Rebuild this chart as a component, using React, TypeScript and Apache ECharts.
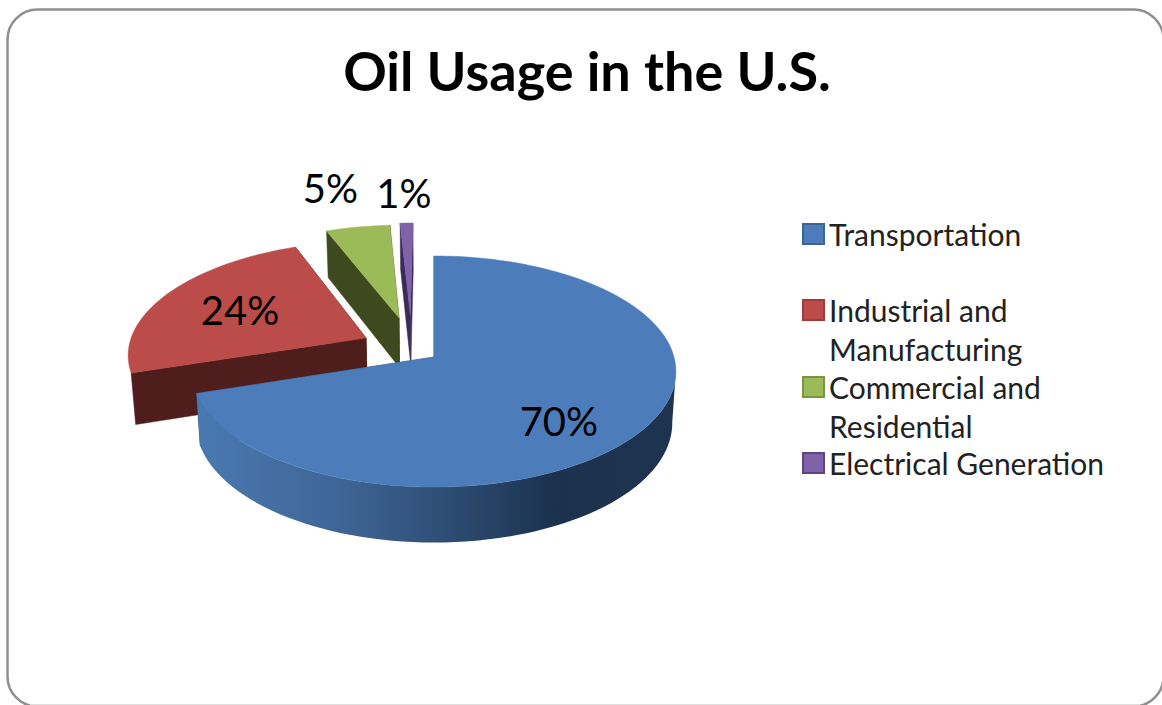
import React, { useEffect, useRef } from "react";
import * as echarts from "echarts";

const TITLE = "Oil Usage in the U.S.";
const CATEGORIES = ["Transportation", "Industrial and\nManufacturing", "Commercial and\nResidential", "Electrical Generation"];
const VALUES = [70, 24, 5, 1];
const PERCENT_LABELS = ["70%", "24%", "5%", "1%"];

const TOP_COLORS = ["#4c7dba", "#bb4c49", "#9bbb59", "#7f62a8"];
const WALL_COLORS = ["#2f5078", "#4f1e1c", "#3e4a1e", "#3a2a58"];
const LEGEND_BORDERS = ["#3a6595", "#a03c3a", "#7a9440", "#5e4680"];
const LEGEND_CENTER_Y = [234, 310, 387, 463];
// pie-plane offsets of the exploded slices
const EXPLODE = [[0, 0], [-0.289, 0.171], [-0.152, 0.358], [-0.103, 0.383]];
const LABEL_RADIUS = [0.6, 0.6, 1.15, 1.15];
const LABEL_NUDGE = [[3, 22], [-4.5, -1], [-22, -27], [-2, -18]];
const SERIES_Z = [4, 1, 2, 3];

const CX = 434, CY = 357, B = 240, A = 113.7, K = 0.1255;
const FONT = "Lato, Carlito, 'Open Sans', sans-serif";
const LINE_H = 38.5;
const TOTAL = VALUES.reduce((a, b) => a + b, 0);

function project(u: number, v: number, base: boolean): number[] {
  const w = 1 + K * v;
  const x = (B * u) / w;
  const y = (-A * v) / w;
  if (!base) return [CX + x, CY + y];
  return [CX + x * 0.985, CY + y * 1.035 + 51];
}

function renderSlice(params: any, api: any) {
  const i = params.seriesIndex;
  const before = VALUES.slice(0, i).reduce((a, b) => a + b, 0);
  const start = (before / TOTAL) * Math.PI * 2;
  const end = ((before + api.value(0)) / TOTAL) * Math.PI * 2;
  const [du, dv] = EXPLODE[i];
  const steps = Math.max(4, Math.round(((end - start) / (Math.PI * 2)) * 160));
  const rimAt = (t: number, base: boolean) => project(du + Math.sin(t), dv + Math.cos(t), base);
  const topArc: number[][] = [];
  const baseArc: number[][] = [];
  for (let s = 0; s <= steps; s++) {
    const t = start + ((end - start) * s) / steps;
    topArc.push(rimAt(t, false));
    baseArc.push(rimAt(t, true));
  }
  const tipTop = project(du, dv, false);
  const tipBase = project(du, dv, true);
  const wall = (a: number[], b: number[]) => ({
    type: "polygon",
    shape: { points: [tipTop, a, b, tipBase] },
    style: { fill: WALL_COLORS[i], stroke: WALL_COLORS[i], lineWidth: 0.5 },
  });
  const children: any[] = [wall(topArc[steps], baseArc[steps]), wall(topArc[0], baseArc[0])];
  // The curved rim only shows on a slice that reaches the front of the pie.
  if (start < Math.PI && end > Math.PI) {
    const from = (arc: number[][]) => arc.reduce((best, p, k) => (p[0] > arc[best][0] ? k : best), 0);
    children.push({
      type: "polygon",
      shape: { points: [...topArc.slice(from(topArc)), ...baseArc.slice(from(baseArc)).reverse()] },
      style: {
        fill: new echarts.graphic.LinearGradient(0, 0, 1, 0, [
          { offset: 0, color: "#4a79b1" },
          { offset: 0.3, color: "#3f6596" },
          { offset: 0.5, color: "#2f5078" },
          { offset: 0.75, color: "#1b314d" },
          { offset: 1, color: "#1d334f" },
        ]),
      },
    });
  }
  const mid = (start + end) / 2;
  const r = LABEL_RADIUS[i];
  const anchor = project(du + r * Math.sin(mid), dv + r * Math.cos(mid), false);
  children.push(
    {
      type: "polygon",
      shape: { points: [tipTop, ...topArc] },
      style: { fill: TOP_COLORS[i], stroke: TOP_COLORS[i], lineWidth: 0.5 },
    },
    {
      type: "text",
      style: {
        text: PERCENT_LABELS[i],
        x: anchor[0] + LABEL_NUDGE[i][0],
        y: anchor[1] + LABEL_NUDGE[i][1],
        fill: "#000",
        font: `40px ${FONT}`,
        align: "center",
        verticalAlign: "middle",
      },
    }
  );
  return { type: "group", children };
}

export default function App() {
  const ref = useRef<HTMLDivElement>(null);
  useEffect(() => {
    const chart = echarts.init(ref.current!, null, { renderer: "svg" });
    chart.setOption({
      animation: false,
      backgroundColor: "#ffffff",
      title: {
        text: TITLE,
        left: 582,
        top: 38,
        textAlign: "center",
        textStyle: { fontFamily: FONT, fontWeight: "bold", fontSize: 54, color: "#000" },
      },
      legend: CATEGORIES.map((name, i) => {
        const twoLines = name.includes("\n");
        return {
          data: [{ name, itemStyle: { borderColor: LEGEND_BORDERS[i], borderWidth: 2 } }],
          left: 802,
          top: LEGEND_CENTER_Y[i] - (twoLines ? LINE_H * 1.5 : LINE_H / 2),
          padding: 0,
          icon: "rect",
          itemWidth: 21,
          itemHeight: 20,
          itemGap: 0,
          selectedMode: false,
          // A blank first line puts the text's first real line level with the swatch.
          formatter: (n: string) => (n.includes("\n") ? `\n${n}` : n),
          textStyle: {
            fontFamily: FONT,
            fontSize: 30,
            color: "#222",
            lineHeight: LINE_H,
          },
        };
      }),
      graphic: [
        {
          type: "rect",
          shape: { x: 7.5, y: 9.5, width: 1156, height: 697, r: 30 },
          style: { fill: "none", stroke: "#8f8f8f", lineWidth: 2.5 },
          silent: true,
          z: 0,
        },
        {
          type: "line",
          shape: { x1: 30, y1: 704.5, x2: 1140, y2: 704.5 },
          style: { stroke: "#dedede", lineWidth: 1 },
          silent: true,
          z: 0,
        },
      ],
      series: CATEGORIES.map((name, i) => ({
        type: "custom",
        name,
        coordinateSystem: "none",
        z: SERIES_Z[i],
        silent: true,
        itemStyle: { color: TOP_COLORS[i] },
        renderItem: renderSlice,
        data: [[VALUES[i]]],
      })),
    });
    return () => chart.dispose();
  }, []);
  return <div ref={ref} style={{ position: "fixed", left: 0, top: 0, width: 1162, height: 705 }} />;
}
